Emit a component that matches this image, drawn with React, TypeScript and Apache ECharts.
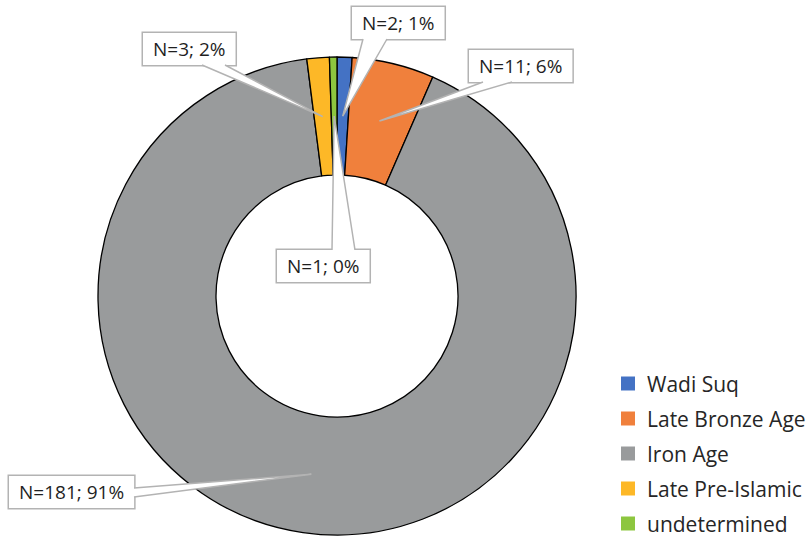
import React, { useEffect, useRef } from "react";
import * as echarts from "echarts";

// Finds per period
const categories = ["Wadi Suq", "Late Bronze Age", "Iron Age", "Late Pre-Islamic", "undetermined"];
const counts = [2, 11, 181, 3, 1];
const colors = ["#4472C4", "#F0803C", "#999B9C", "#FDB827", "#8DC63F"];

// Ring geometry
const CENTER: [number, number] = [337, 296];
const R_IN = 121;
const R_OUT = 239;

// Callout boxes: top-left corner of each box and the two points where its pointer leaves the box
const calloutBoxes: [number, number][] = [
  [352, 7],
  [469, 50],
  [9, 476],
  [143, 33],
  [277, 250],
];
const calloutBases: [number, number][][] = [
  [[363, 39], [387, 39]],
  [[483, 82], [512, 82]],
  [[134, 488], [134, 497]],
  [[202, 65], [225, 65]],
  [[332, 250], [355, 250]],
];

const FONT = "'Open Sans', sans-serif";
const CALLOUT_STROKE = "#B3B3B3";

export default function App() {
  const ref = useRef<HTMLDivElement>(null);

  useEffect(() => {
    if (!ref.current) return;
    const chart = echarts.init(ref.current, undefined, { renderer: "svg" });

    // pointer tips sit in the middle of the ring, at each slice's mid angle
    const total = counts.reduce((a, b) => a + b, 0);
    const rMid = (R_IN + R_OUT) / 2;
    let acc = 0;
    const tips = counts.map((v) => {
      const mid = ((acc + v / 2) / total) * Math.PI * 2;
      acc += v;
      return [CENTER[0] + rMid * Math.sin(mid), CENTER[1] - rMid * Math.cos(mid)];
    });

    const pointerElements: any[] = [];
    tips.forEach((tip, i) => {
      const [a, b] = calloutBases[i];
      pointerElements.push({
        type: "polygon",
        z: 10,
        silent: true,
        shape: { points: [a, tip, b] },
        style: { fill: "#FFFFFF", stroke: null },
      });
      pointerElements.push({
        type: "polyline",
        z: 11,
        silent: true,
        shape: { points: [a, tip, b] },
        style: { stroke: CALLOUT_STROKE, lineWidth: 1.5, fill: null },
      });
    });

    chart.setOption({
      animation: false,
      backgroundColor: "#FFFFFF",
      color: colors,
      legend: {
        orient: "vertical",
        left: 621,
        top: 373,
        padding: 0,
        itemWidth: 14,
        itemHeight: 14,
        itemGap: 14,
        icon: "rect",
        selectedMode: false,
        itemStyle: { borderWidth: 0 },
        textStyle: {
          fontFamily: FONT,
          fontSize: 21,
          color: "#262626",
          lineHeight: 21,
          padding: [0, 0, 0, 7],
        },
        data: categories,
      },
      graphic: { elements: pointerElements },
      series: [
        {
          type: "pie",
          center: CENTER,
          radius: [R_IN, R_OUT],
          startAngle: 90,
          clockwise: true,
          percentPrecision: 0,
          avoidLabelOverlap: false,
          silent: true,
          itemStyle: { borderColor: "#000000", borderWidth: 1.3 },
          emphasis: { disabled: true },
          label: {
            show: true,
            position: "outside",
            formatter: "N={c}; {d}%",
            fontFamily: FONT,
            fontSize: 19,
            color: "#1F1F1F",
            lineHeight: 22,
            padding: [5, 10],
            backgroundColor: "#FFFFFF",
            borderColor: CALLOUT_STROKE,
            borderWidth: 1.5,
          },
          labelLine: { show: false },
          labelLayout: (params: any) => {
            const [x, y] = calloutBoxes[params.dataIndex];
            return { x, y, align: "left", verticalAlign: "top" };
          },
          data: categories.map((name, i) => ({ name, value: counts[i] })),
        },
      ],
    });

    return () => chart.dispose();
  }, []);

  return (
    <div
      ref={ref}
      style={{ position: "fixed", left: 0, top: 0, width: 812, height: 538 }}
    />
  );
}
